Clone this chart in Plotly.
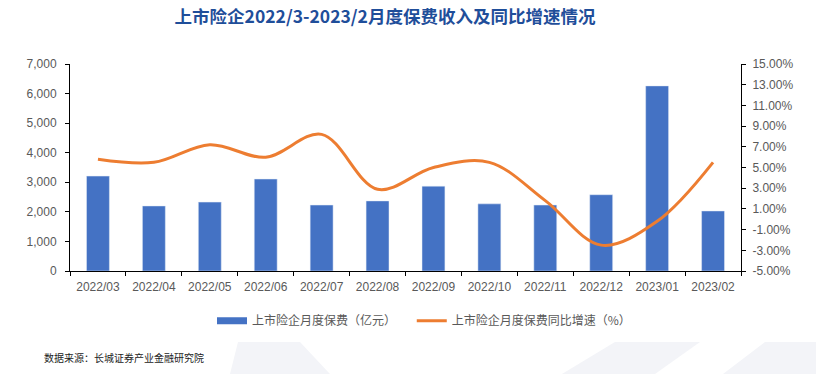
import plotly.graph_objects as go

months = ["2022/03", "2022/04", "2022/05", "2022/06", "2022/07", "2022/08",
          "2022/09", "2022/10", "2022/11", "2022/12", "2023/01", "2023/02"]
premium = [3210, 2200, 2330, 3110, 2230, 2370, 2870, 2270, 2230, 2580, 6260, 2030]
growth = [5.8, 5.5, 7.2, 6.0, 8.2, 2.9, 5.0, 5.5, 1.8, -2.5, -0.2, 5.5]
y_ticks = [0, 1000, 2000, 3000, 4000, 5000, 6000, 7000]
y2_ticks = [-5, -3, -1, 1, 3, 5, 7, 9, 11, 13, 15]
y2_text = [f"{v:.2f}%" for v in y2_ticks]

CJK = "Noto Sans CJK SC"
NUM = "Liberation Sans, Arial, sans-serif"
GRAY = "#595959"
L, R, T, B = 70, 75, 64, 103
W, H = 816, 374
PW, PH = W - L - R, H - T - B


def px(x, y):
    return (x - L) / PW, (H - B - y) / PH


def poly(points):
    pts = [px(x, y) for x, y in points]
    return "M " + " L ".join(f"{a:.4f},{b:.4f}" for a, b in pts) + " Z"


fig = go.Figure()
fig.add_trace(go.Bar(
    x=months, y=premium, name="上市险企月度保费（亿元）",
    marker=dict(color="#4472C4"), width=0.41, yaxis="y", showlegend=False))
fig.add_trace(go.Scatter(
    x=[None], y=[None], name="上市险企月度保费（亿元）" + "\u00a0" * 4, mode="lines",
    line=dict(color="#4472C4", width=7), yaxis="y", hoverinfo="skip"))
fig.add_trace(go.Scatter(
    x=months, y=growth, name="上市险企月度保费同比增速（%）",
    mode="lines", line=dict(color="#ED7D31", width=3, shape="spline", smoothing=1.0),
    yaxis="y2"))

deco = [
    [(562, 374), (615, 342), (700, 342), (655, 374)],
    [(723, 374), (765, 342), (816, 342), (816, 374)],
    [(230, 374), (238, 342), (300, 342), (330, 374)],
]
shapes = [dict(type="path", xref="paper", yref="paper", path=poly(p),
               fillcolor="#F3F4F8", line=dict(width=0), layer="below") for p in deco]

fig.update_layout(
    width=W, height=H,
    margin=dict(l=L, r=R, t=T, b=B),
    paper_bgcolor="white", plot_bgcolor="rgba(0,0,0,0)",
    title=dict(text="<b>上市险企2022/3-2023/2月度保费收入及同比增速情况</b>",
               x=385 / W, xanchor="center", y=0.955, yanchor="middle",
               font=dict(family=CJK, size=17.5, color="#1F4E9A")),
    xaxis=dict(type="category", showline=True, linecolor="black", linewidth=1,
               ticks="outside", ticklen=4, tickcolor="black", tickson="boundaries",
               ticklabelstandoff=5,
               tickfont=dict(family=NUM, size=12, color=GRAY), showgrid=False),
    yaxis=dict(range=[0, 7000], tickvals=y_ticks, tickformat=",",
               showline=True, linecolor="black", linewidth=1, ticks="outside",
               ticklen=4, tickcolor="black", showgrid=False, zeroline=False,
               ticklabelstandoff=6,
               tickfont=dict(family=NUM, size=12, color=GRAY)),
    yaxis2=dict(range=[-5, 15], tickvals=y2_ticks, ticktext=y2_text,
                overlaying="y", side="right", showline=True, linecolor="black",
                linewidth=1, ticks="outside", ticklen=4, tickcolor="black",
                showgrid=False, zeroline=False, ticklabelstandoff=4,
                tickfont=dict(family=NUM, size=12, color=GRAY)),
    legend=dict(orientation="h", x=px(424, 0)[0], xanchor="center", y=-0.24,
                yanchor="middle",
                font=dict(family=CJK, size=12, color=GRAY), itemwidth=30,
                traceorder="normal"),
    shapes=shapes,
    annotations=[dict(text="数据来源：长城证券产业金融研究院", xref="paper", yref="paper",
                      x=px(42, 357)[0], y=px(42, 357)[1], xanchor="left", yanchor="middle",
                      showarrow=False,
                      font=dict(family=CJK, size=10, color="#222222"))],
)

fig.write_html("out.html", config={"displayModeBar": False},
               post_script="document.body.style.margin='0';document.body.style.padding='0';")
